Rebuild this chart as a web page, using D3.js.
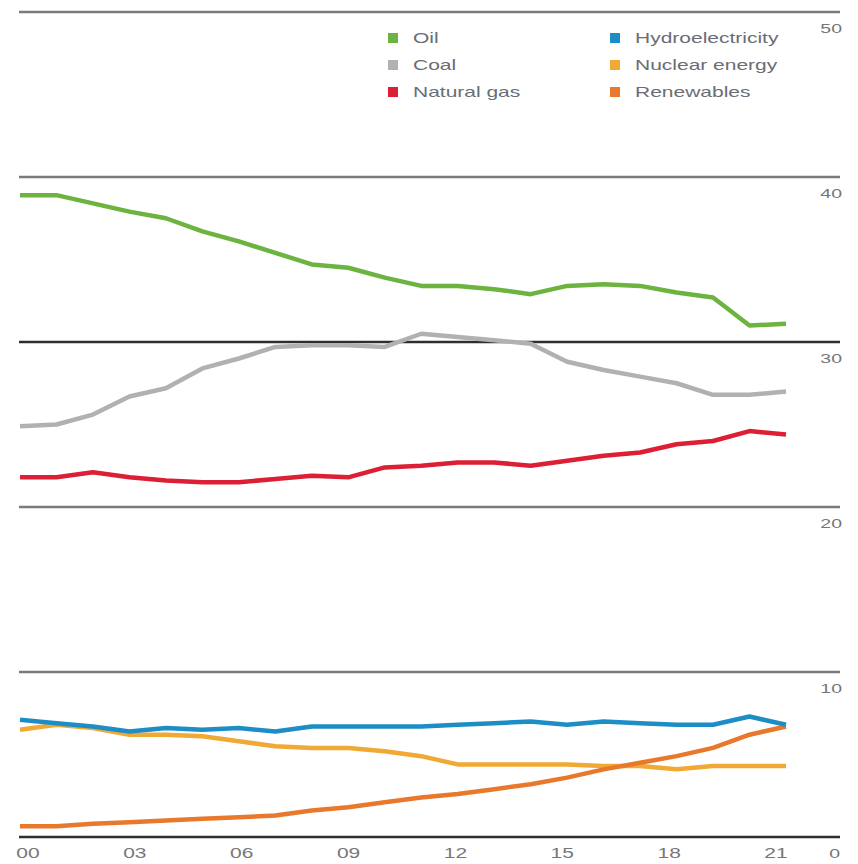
<!DOCTYPE html>
<html>
<head>
<meta charset="utf-8">
<script src="https://cdn.jsdelivr.net/npm/d3@7"></script>
<style>
  body { margin: 0; background: #fff; }
  text { font-family: "Liberation Sans", Arial, sans-serif; }
</style>
</head>
<body>
<div id="chart"></div>
<script>
const width = 858, height = 864;

// share of primary energy (%), 2000-2021
const years = d3.range(2000, 2022);
const oil = [38.9, 38.9, 38.4, 37.9, 37.5, 36.7, 36.1, 35.4, 34.7, 34.5, 33.9, 33.4,
             33.4, 33.2, 32.9, 33.4, 33.5, 33.4, 33.0, 32.7, 31.0, 31.1];
const coal = [24.9, 25.0, 25.6, 26.7, 27.2, 28.4, 29.0, 29.7, 29.8, 29.8, 29.7, 30.5,
              30.3, 30.1, 29.9, 28.8, 28.3, 27.9, 27.5, 26.8, 26.8, 27.0];
const gas = [21.8, 21.8, 22.1, 21.8, 21.6, 21.5, 21.5, 21.7, 21.9, 21.8, 22.4, 22.5,
             22.7, 22.7, 22.5, 22.8, 23.1, 23.3, 23.8, 24.0, 24.6, 24.4];
const hydro = [7.1, 6.9, 6.7, 6.4, 6.6, 6.5, 6.6, 6.4, 6.7, 6.7, 6.7, 6.7,
               6.8, 6.9, 7.0, 6.8, 7.0, 6.9, 6.8, 6.8, 7.3, 6.8];
const nuclear = [6.5, 6.8, 6.6, 6.2, 6.2, 6.1, 5.8, 5.5, 5.4, 5.4, 5.2, 4.9,
                 4.4, 4.4, 4.4, 4.4, 4.3, 4.3, 4.1, 4.3, 4.3, 4.3];
const renewables = [0.65, 0.65, 0.8, 0.9, 1.0, 1.1, 1.2, 1.3, 1.6, 1.8, 2.1, 2.4,
                    2.6, 2.9, 3.2, 3.6, 4.1, 4.5, 4.9, 5.4, 6.2, 6.7];

const yTicks = [0, 10, 20, 30, 40, 50];
const xTickYears = [2000, 2003, 2006, 2009, 2012, 2015, 2018, 2021];

// drawing order: bottom to top
const series = [
  {name: "Nuclear energy", values: nuclear, color: "#f0a935"},
  {name: "Renewables", values: renewables, color: "#e8792c"},
  {name: "Hydroelectricity", values: hydro, color: "#1d8dc6"},
  {name: "Natural gas", values: gas, color: "#dc1f34"},
  {name: "Coal", values: coal, color: "#b1b1b3"},
  {name: "Oil", values: oil, color: "#6cb33f"}
];
const legendCols = [["Oil", "Coal", "Natural gas"], ["Hydroelectricity", "Nuclear energy", "Renewables"]];

const stretch = 1.5;  // the picture is wide-set, so text is stretched too

let svg = d3.select("#chart")
    .append("svg")
    .attr("width", width)
    .attr("height", height);

let x = d3.scaleLinear().domain([2000, 2021]).range([20, 786]);
let xLabel = d3.scaleLinear().domain([2000, 2021]).range([28, 776]);
let y = d3.scaleLinear().domain([0, 50]).range([837, 12]);

function stretchedText(g, tx, ty, str) {
    return g.append("text")
        .attr("transform", `translate(${tx},${ty}) scale(${stretch},1)`)
        .text(str);
}

// gridlines
svg.append("g")
    .selectAll("line")
    .data(yTicks)
    .enter().append("line")
    .attr("x1", 19)
    .attr("x2", 840)
    .attr("y1", d => y(d))
    .attr("y2", d => y(d))
    .attr("stroke", d => (d === 0 || d === 30) ? "#2e2e2e" : "#7a7a7a")
    .attr("stroke-width", 2.5);

// right value labels
let yLab = svg.append("g")
    .style("font-size", "13px")
    .style("fill", "#777")
    .style("text-anchor", "end");
yTicks.filter(d => d > 0).forEach(function (d) {
    stretchedText(yLab, 842, y(d) + 21, d);
});
stretchedText(yLab, 840, 858, "0");

// year labels
let xLab = svg.append("g")
    .style("font-size", "14px")
    .style("fill", "#777")
    .style("text-anchor", "middle");
xTickYears.forEach(function (yr) {
    stretchedText(xLab, xLabel(yr), 858, String(yr).slice(2));
});

// lines
let line = d3.line()
    .x((d, i) => x(years[i]))
    .y(d => y(d));

svg.append("g")
    .selectAll("path")
    .data(series)
    .enter().append("path")
    .attr("d", d => line(d.values))
    .attr("fill", "none")
    .attr("stroke", d => d.color)
    .attr("stroke-width", 4.5)
    .attr("stroke-linejoin", "round");

// legend
let colorOf = {};
series.forEach(s => colorOf[s.name] = s.color);
let legend = svg.append("g")
    .style("font-size", "14px")
    .style("fill", "#6a6d76");
let colX = [388, 610];
legendCols.forEach(function (col, c) {
    col.forEach(function (name, r) {
        let cy = 38 + r * 27;
        legend.append("rect")
            .attr("x", colX[c])
            .attr("y", cy - 5)
            .attr("width", 10)
            .attr("height", 10)
            .attr("fill", colorOf[name]);
        stretchedText(legend, colX[c] + 25, cy + 5, name);
    });
});
</script>
</body>
</html>
